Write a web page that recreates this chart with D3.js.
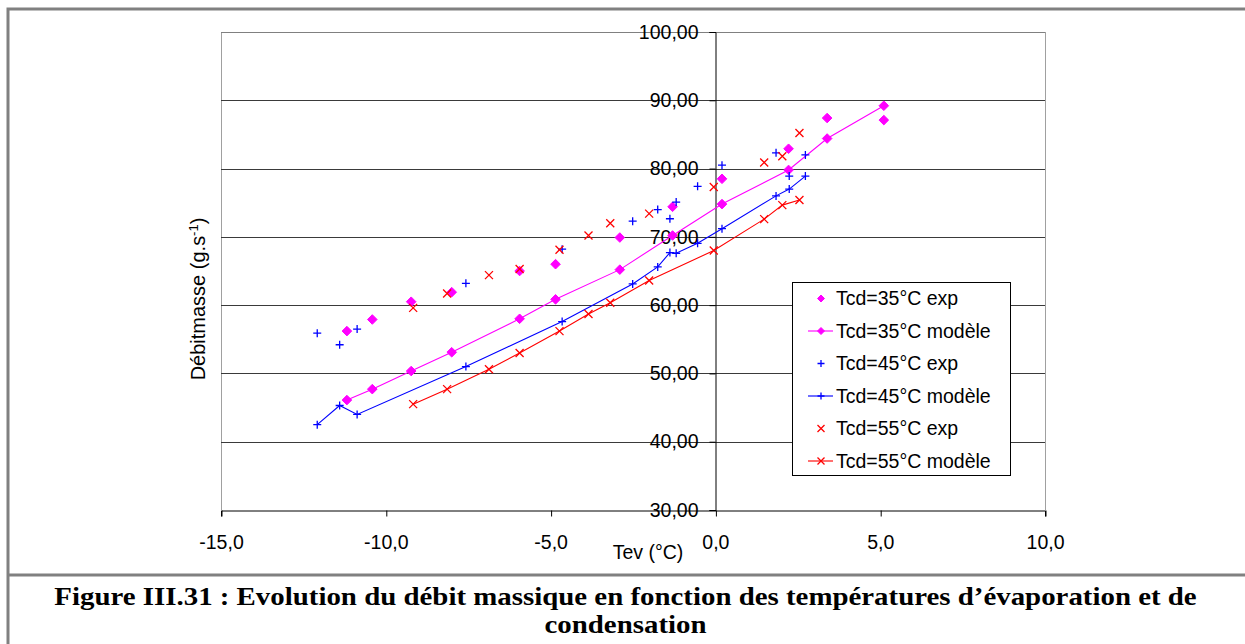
<!DOCTYPE html>
<html>
<head>
<meta charset="utf-8">
<script src="https://cdn.jsdelivr.net/npm/d3@7"></script>
<style>
  body { margin: 0; background: #fff; }
  svg text { font-family: Arial, "Liberation Sans", sans-serif; }
  .caption { font-family: "Times New Roman", "Liberation Serif", serif; font-weight: bold; }
</style>
</head>
<body>
<svg id="chart" width="1245" height="644"></svg>
<script>
// Data
const xTickValues = [-15, -10, -5, 0, 5, 10];
const xTickLabels = ['-15,0', '-10,0', '-5,0', '0,0', '5,0', '10,0'];
const yTickValues = [30, 40, 50, 60, 70, 80, 90, 100];
const yTickLabels = ['30,00', '40,00', '50,00', '60,00', '70,00', '80,00', '90,00', '100,00'];

const tev35 = [-11.18, -10.41, -9.23, -8.0, -5.94, -4.85, -2.9, -1.3, 0.2, 2.22, 3.39, 5.11];
const exp35 = [56.2, 57.9, 60.5, 61.9, 65.0, 66.0, 69.9, 74.4, 78.5, 82.9, 87.4, 87.1];
const mod35 = [46.1, 47.7, 50.35, 53.1, 58.0, 60.85, 65.2, 70.2, 74.8, 79.8, 84.4, 89.2];

const tev45 = [-12.08, -11.4, -10.87, -7.57, -4.65, -2.51, -1.75, -1.38, -1.19, -0.54, 0.2, 1.84, 2.24, 2.73];
const exp45 = [55.9, 54.2, 56.5, 63.2, 68.2, 72.3, 74.0, 72.65, 75.1, 77.4, 80.5, 82.3, 78.9, 82.0];
const mod45 = [42.5, 45.3, 44.0, 51.0, 57.6, 63.1, 65.6, 67.7, 67.6, 69.05, 71.2, 76.0, 77.0, 78.9];

const tev55 = [-9.17, -8.14, -6.87, -5.94, -4.73, -3.85, -3.19, -2.01, -0.05, 1.48, 2.03, 2.55];
const exp55 = [59.6, 61.7, 64.4, 65.3, 68.1, 70.2, 72.0, 73.4, 77.3, 80.9, 81.8, 85.2];
const mod55 = [45.5, 47.7, 50.6, 53.0, 56.2, 58.7, 60.35, 63.6, 68.0, 72.6, 74.65, 75.4];

const series = [
  { label: 'Tcd=35°C exp', x: tev35, y: exp35, color: '#ff00ff', symbol: 'diamond', line: false },
  { label: 'Tcd=35°C modèle', x: tev35, y: mod35, color: '#ff00ff', symbol: 'diamond', line: true },
  { label: 'Tcd=45°C exp', x: tev45, y: exp45, color: '#0000ff', symbol: 'plus', line: false },
  { label: 'Tcd=45°C modèle', x: tev45, y: mod45, color: '#0000ff', symbol: 'plus', line: true },
  { label: 'Tcd=55°C exp', x: tev55, y: exp55, color: '#ff0000', symbol: 'cross', line: false },
  { label: 'Tcd=55°C modèle', x: tev55, y: mod55, color: '#ff0000', symbol: 'cross', line: true },
];

const svg = d3.select('#chart');

// Outer frame and caption separator
svg.append('rect')
  .attr('x', 8).attr('y', 9)
  .attr('width', 1260).attr('height', 660)
  .attr('fill', 'none')
  .attr('stroke', '#808080')
  .attr('stroke-width', 3);
svg.append('line')
  .attr('x1', 8).attr('x2', 1245)
  .attr('y1', 575).attr('y2', 575)
  .attr('stroke', '#808080')
  .attr('stroke-width', 3);

// Scales
const x = d3.scaleLinear().domain([-15, 10]).range([221, 1045]);
const y = d3.scaleLinear().domain([30, 100]).range([510, 32]);

// Plot area sides
svg.append('line')
  .attr('x1', x(-15) + 0.5).attr('x2', x(-15) + 0.5)
  .attr('y1', y(100)).attr('y2', y(30))
  .attr('stroke', '#a0a0a0');
svg.append('line')
  .attr('x1', x(10) + 0.5).attr('x2', x(10) + 0.5)
  .attr('y1', y(100)).attr('y2', y(30))
  .attr('stroke', '#a0a0a0');

// Horizontal gridlines
svg.append('g')
  .selectAll('line')
  .data(yTickValues.slice(1))
  .join('line')
    .attr('x1', x(-15)).attr('x2', x(10))
    .attr('y1', d => Math.round(y(d)) + 0.5)
    .attr('y2', d => Math.round(y(d)) + 0.5)
    .attr('stroke', d => d === 100 ? '#808080' : '#3a3a3a');

// X axis
const xAxis = svg.append('g')
  .attr('transform', `translate(0,${Math.round(y(30)) + 0.5})`)
  .call(d3.axisBottom(x)
    .tickValues(xTickValues)
    .tickFormat((d, i) => xTickLabels[i])
    .tickSize(6)
    .tickPadding(19));
xAxis.select('.domain').attr('stroke', '#000');
xAxis.selectAll('.tick line').attr('stroke', '#000').attr('transform', 'translate(0.5,0)');
xAxis.selectAll('text').attr('font-size', 19.5).attr('fill', '#000')
  .style('font-family', 'Arial, "Liberation Sans", sans-serif');

// Y axis at Tev = 0
const yAxis = svg.append('g')
  .attr('transform', `translate(${Math.round(x(0)) + 0.5},0)`)
  .call(d3.axisLeft(y)
    .tickValues(yTickValues)
    .tickFormat((d, i) => yTickLabels[i])
    .tickSize(6)
    .tickPadding(11));
yAxis.select('.domain').attr('stroke', '#000');
yAxis.selectAll('.tick line').attr('stroke', '#000');
yAxis.selectAll('text').attr('font-size', 19.5).attr('fill', '#000')
  .style('font-family', 'Arial, "Liberation Sans", sans-serif');

// Axis titles
svg.append('text')
  .attr('x', 648).attr('y', 559)
  .attr('text-anchor', 'middle')
  .attr('font-size', 19.5)
  .text('Tev (°C)');

const yTitle = svg.append('text')
  .attr('transform', 'translate(205,299) rotate(-90)')
  .attr('text-anchor', 'middle')
  .attr('font-size', 20);
yTitle.append('tspan').text('Débitmasse (g.s');
yTitle.append('tspan').attr('dy', -7).attr('font-size', 13).text('-1');
yTitle.append('tspan').attr('dy', 7).text(')');

// Marker shapes
const markerPath = (symbol, s) => {
  if (symbol === 'diamond') return `M0,${-s}L${s},0L0,${s}L${-s},0Z`;
  if (symbol === 'plus') return `M${-s},0H${s}M0,${-s}V${s}`;
  return `M${-s},${-s}L${s},${s}M${-s},${s}L${s},${-s}`;
};
const drawMarker = (sel, d, s) => {
  sel.attr('d', markerPath(d.symbol, s))
    .attr('fill', d.symbol === 'diamond' ? d.color : 'none')
    .attr('stroke', d.color)
    .attr('stroke-width', d.symbol === 'diamond' ? 1 : 1.3);
};

// Lines and markers
const line = d3.line().x(p => x(p[0])).y(p => y(p[1]));
const plot = svg.append('g');
series.forEach(s => {
  const pts = s.x.map((v, i) => [v, s.y[i]]);
  if (s.line) {
    plot.append('path')
      .attr('d', line(pts))
      .attr('fill', 'none')
      .attr('stroke', s.color)
      .attr('stroke-width', 1.1);
  }
  plot.append('g')
    .selectAll('path')
    .data(pts)
    .join('path')
      .attr('transform', p => `translate(${x(p[0])},${y(p[1])})`)
      .each(function () { drawMarker(d3.select(this), s, s.symbol === 'diamond' ? 4.8 : 4); });
});

// Legend
const legend = svg.append('g');
legend.append('rect')
  .attr('x', 792.5).attr('y', 282.5)
  .attr('width', 218).attr('height', 193)
  .attr('fill', '#fff')
  .attr('stroke', '#000');

const legendItem = legend.selectAll('.legend-item')
  .data(series)
  .join('g')
    .attr('class', 'legend-item')
    .attr('transform', (d, i) => `translate(0,${298.5 + i * 32.5})`);

legendItem.filter(d => d.line)
  .append('line')
    .attr('x1', 808).attr('x2', 833)
    .attr('y1', 0).attr('y2', 0)
    .attr('stroke', d => d.color)
    .attr('stroke-opacity', 0.75)
    .attr('stroke-width', 1.5);

legendItem.append('path')
  .attr('transform', 'translate(821,0)')
  .each(function (d) { drawMarker(d3.select(this), d, 3.5); });

legendItem.append('text')
  .attr('x', 836)
  .attr('y', 0)
  .attr('dy', '0.35em')
  .attr('font-size', 19.5)
  .text(d => d.label);

// Caption, stretched horizontally to the width it has in the figure
const captionGroup = svg.append('g');
const caption = captionGroup.append('text')
  .attr('class', 'caption')
  .attr('text-anchor', 'middle')
  .attr('font-size', 24.5);
const line1 = caption.append('tspan')
  .attr('x', 0).attr('y', 605)
  .text('Figure III.31 : Evolution du débit massique en fonction des températures d’évaporation et de');
caption.append('tspan')
  .attr('x', 0).attr('y', 633)
  .text('condensation');
const w1 = line1.node().getComputedTextLength();
const sx = 1143 / w1;
captionGroup.attr('transform', `translate(625.5,0) scale(${sx},1)`);
</script>
</body>
</html>
